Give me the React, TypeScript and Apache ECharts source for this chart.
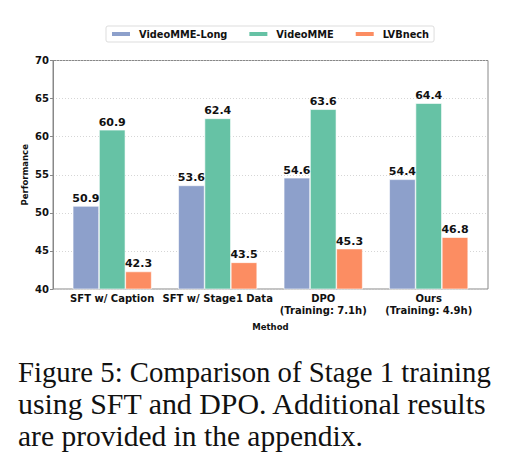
import React, { useEffect, useRef } from "react";
import * as echarts from "echarts";

const categories = [
  "SFT w/ Caption",
  "SFT w/ Stage1 Data",
  "DPO\n(Training: 7.1h)",
  "Ours\n(Training: 4.9h)",
];
const seriesNames = ["VideoMME-Long", "VideoMME", "LVBnech"];
const videoMMELong = [50.9, 53.6, 54.6, 54.4];
const videoMME = [60.9, 62.4, 63.6, 64.4];
const lvbench = [42.3, 43.5, 45.3, 46.8];
const colors = ["#8da0cb", "#66c2a5", "#fc8d62"];
const yMin = 40;
const yMax = 70;
const yInterval = 5;
const captionLines = [
  "Figure 5: Comparison of Stage 1 training",
  "using SFT and DPO. Additional results",
  "are provided in the appendix.",
];

const FONT = "DejaVu Sans";

export default function App() {
  const ref = useRef<HTMLDivElement>(null);
  useEffect(() => {
    document.body.style.margin = "0";
    if (!ref.current) return;
    const chart = echarts.init(ref.current, undefined, { renderer: "svg" });
    const values = [videoMMELong, videoMME, lvbench];
    const option: any = {
      animation: false,
      backgroundColor: "#ffffff",
      textStyle: { fontFamily: FONT },
      legend: {
        left: 106,
        top: 26,
        data: seriesNames,
        icon: "rect",
        itemWidth: 20,
        itemHeight: 6,
        itemGap: 20,
        padding: [3, 5, 3, 4],
        borderColor: "#dddddd",
        borderWidth: 1,
        borderRadius: 2,
        backgroundColor: "#ffffff",
        textStyle: {
          fontFamily: FONT,
          fontWeight: "bold",
          fontSize: 9.8,
          color: "#111",
          padding: [0, 0, 0, 3],
        },
      },
      grid: [
        {
          left: 53,
          right: 22,
          top: 60.5,
          bottom: 179,
          show: true,
          borderColor: "#888888",
          borderWidth: 1,
          backgroundColor: "transparent",
        },
        {
          left: 59.45,
          right: 28.55,
          top: 60.5,
          bottom: 179,
        },
      ],
      xAxis: [
        {
          type: "category",
          gridIndex: 0,
          data: ["_"],
          show: false,
        },
        {
          type: "category",
          gridIndex: 1,
          data: categories,
          axisLine: { show: false },
          axisTick: { show: false },
          axisLabel: {
            fontFamily: FONT,
            fontWeight: "bold",
            fontSize: 10,
            color: "#111",
            margin: 3,
            lineHeight: 12,
            interval: 0,
          },
          name: "Method",
          nameLocation: "middle",
          nameGap: 33,
          nameMoveOverlap: false,
          nameTextStyle: {
            fontFamily: FONT,
            fontWeight: "bold",
            fontSize: 8.5,
            color: "#111",
          },
        },
      ],
      yAxis: [
        {
          type: "value",
          gridIndex: 0,
          min: yMin,
          max: yMax,
          interval: yInterval,
          axisLine: { show: true, lineStyle: { color: "#888888", width: 1 } },
          axisTick: { show: true, length: 3, lineStyle: { color: "#888888" } },
          axisLabel: {
            fontFamily: FONT,
            fontWeight: "bold",
            fontSize: 10,
            color: "#111",
            margin: 4,
          },
          splitLine: {
            show: true,
            lineStyle: { type: [1, 2], color: "#cccccc", width: 0.8 },
          },
          name: "Performance",
          nameLocation: "middle",
          nameGap: 24,
          nameMoveOverlap: false,
          nameTextStyle: {
            fontFamily: FONT,
            fontWeight: "bold",
            fontSize: 8.5,
            color: "#111",
          },
        },
        {
          type: "value",
          gridIndex: 1,
          min: yMin,
          max: yMax,
          interval: yInterval,
          show: false,
          splitLine: { show: false },
        },
      ],
      series: seriesNames.map((name, i) => ({
        name,
        type: "bar",
        xAxisIndex: 1,
        yAxisIndex: 1,
        data: values[i],
        barWidth: 26.3,
        barGap: "0%",
        itemStyle: { color: colors[i], borderColor: "#ffffff", borderWidth: 0.6 },
        label: {
          show: true,
          position: "top",
          distance: 2,
          fontFamily: FONT,
          fontWeight: "bold",
          fontSize: 11,
          color: "#111",
          formatter: (p: any) => Number(p.value).toFixed(1),
        },
      })),
      graphic: [
        {
          type: "text",
          left: 18,
          top: 357,
          scaleX: 0.975,
          style: {
            text: captionLines[0],
            fontFamily: "Liberation Serif",
            fontSize: 29.5,
            fill: "#111",
          },
        },
        {
          type: "text",
          left: 18,
          top: 389,
          scaleX: 1.013,
          style: {
            text: captionLines[1],
            fontFamily: "Liberation Serif",
            fontSize: 29.5,
            fill: "#111",
          },
        },
        {
          type: "text",
          left: 18,
          top: 421,
          style: {
            text: captionLines[2],
            fontFamily: "Liberation Serif",
            fontSize: 29.5,
            fill: "#111",
          },
        },
      ],
    };
    chart.setOption(option);
    return () => chart.dispose();
  }, []);
  return <div ref={ref} style={{ width: 510, height: 468 }} />;
}
